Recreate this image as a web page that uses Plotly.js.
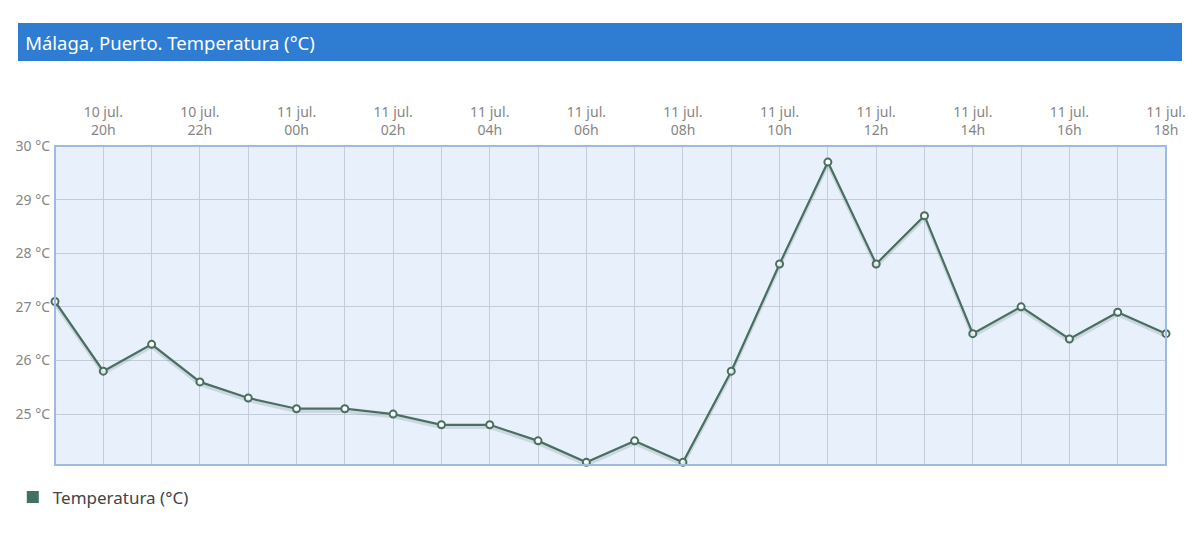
<!DOCTYPE html>
<html><head><meta charset="utf-8">
<script src="https://cdn.plot.ly/plotly-3.0.1.min.js"></script>
<style>html,body{margin:0;padding:0;background:#fff;}#chart{width:1200px;height:549px;}</style>
</head><body><div id="chart"></div>
<script>
const times = ["2024-07-10 19:00","2024-07-10 20:00","2024-07-10 21:00","2024-07-10 22:00","2024-07-10 23:00",
"2024-07-11 00:00","2024-07-11 01:00","2024-07-11 02:00","2024-07-11 03:00","2024-07-11 04:00","2024-07-11 05:00",
"2024-07-11 06:00","2024-07-11 07:00","2024-07-11 08:00","2024-07-11 09:00","2024-07-11 10:00","2024-07-11 11:00",
"2024-07-11 12:00","2024-07-11 13:00","2024-07-11 14:00","2024-07-11 15:00","2024-07-11 16:00","2024-07-11 17:00","2024-07-11 18:00"];
const temperatura = [27.1,25.8,26.3,25.6,25.3,25.1,25.1,25.0,24.8,24.8,24.5,24.1,24.5,24.1,25.8,27.8,29.7,27.8,28.7,26.5,27.0,26.4,26.9,26.5];
const tickLabels = ["","10 jul.<br>20h","","10 jul.<br>22h","","11 jul.<br>00h","","11 jul.<br>02h","","11 jul.<br>04h","","11 jul.<br>06h","","11 jul.<br>08h","","11 jul.<br>10h","","11 jul.<br>12h","","11 jul.<br>14h","","11 jul.<br>16h","","11 jul.<br>18h"];
const yTicks = [25,26,27,28,29,30];
const yTickText = yTicks.map(v => v + " °C");
const seriesName = "Temperatura (°C)";
const titleText = "Málaga, Puerto. Temperatura (°C)";

const lineColor = "#4a6f62";
const yMin = 24.05, yMax = 30, shadowShift = 0.05;
const traces = [
  {x: times, y: temperatura, type: "scatter", mode: "lines", yaxis: "y2", showlegend: false, hoverinfo: "skip",
   line: {color: "rgba(74,111,98,0.18)", width: 3}},
  {x: times, y: temperatura, type: "scatter", mode: "lines+markers", name: seriesName, showlegend: false,
   line: {color: lineColor, width: 2.2},
   marker: {color: "#ffffff", size: 7, line: {color: lineColor, width: 2}}, cliponaxis: false},
  {x: [times[0]], y: [null], type: "bar", name: seriesName, marker: {color: "#3f7262"}, showlegend: true}
];
const layout = {
  width: 1200, height: 549,
  margin: {l: 55, r: 34, t: 146, b: 84},
  paper_bgcolor: "#ffffff",
  plot_bgcolor: "#e8f0fb",
  font: {family: "Noto Sans, Open Sans, sans-serif", color: "#7a7a7a", size: 14},
  title: {text: titleText, x: 0.021, xanchor: "left", y: 0.921, yanchor: "middle",
          font: {color: "#ffffff", size: 18.5, family: "Noto Sans, sans-serif"}},
  shapes: [
    {type: "rect", xref: "paper", yref: "paper", x0: -0.0333, x1: 1.0144, y0: 1.2665, y1: 1.3856,
     fillcolor: "#2e7dd2", line: {width: 0}, layer: "below"},
    {type: "rect", xref: "paper", yref: "paper", x0: 0, x1: 1, y0: 0, y1: 1,
     fillcolor: "rgba(0,0,0,0)", line: {color: "#9dbbe0", width: 2}, layer: "above"}
  ],
  xaxis: {type: "date", side: "top", tickmode: "array", tickvals: times, ticktext: tickLabels,
          range: [times[0], times[times.length-1]], showgrid: true, gridcolor: "#c3ccd9", gridwidth: 1,
          zeroline: false, showline: false, ticks: "", ticklabelstandoff: 7,
          tickfont: {color: "#858585", size: 14}, fixedrange: true},
  yaxis: {range: [yMin, yMax], tickmode: "array", tickvals: yTicks, ticktext: yTickText,
          showgrid: true, gridcolor: "#c3ccd9", gridwidth: 1, zeroline: false, showline: false, ticks: "",
          ticklabelstandoff: 4, tickfont: {color: "#858585", size: 14}},
  yaxis2: {overlaying: "y", range: [yMin + shadowShift, yMax + shadowShift], visible: false, showgrid: false},
  legend: {orientation: "h", x: -0.038, xanchor: "left", y: -0.045, yanchor: "top",
           font: {color: "#444", size: 17}, bgcolor: "rgba(0,0,0,0)"},
  showlegend: true
};
Plotly.newPlot("chart", traces, layout, {displayModeBar: false, staticPlot: true});
</script></body></html>
